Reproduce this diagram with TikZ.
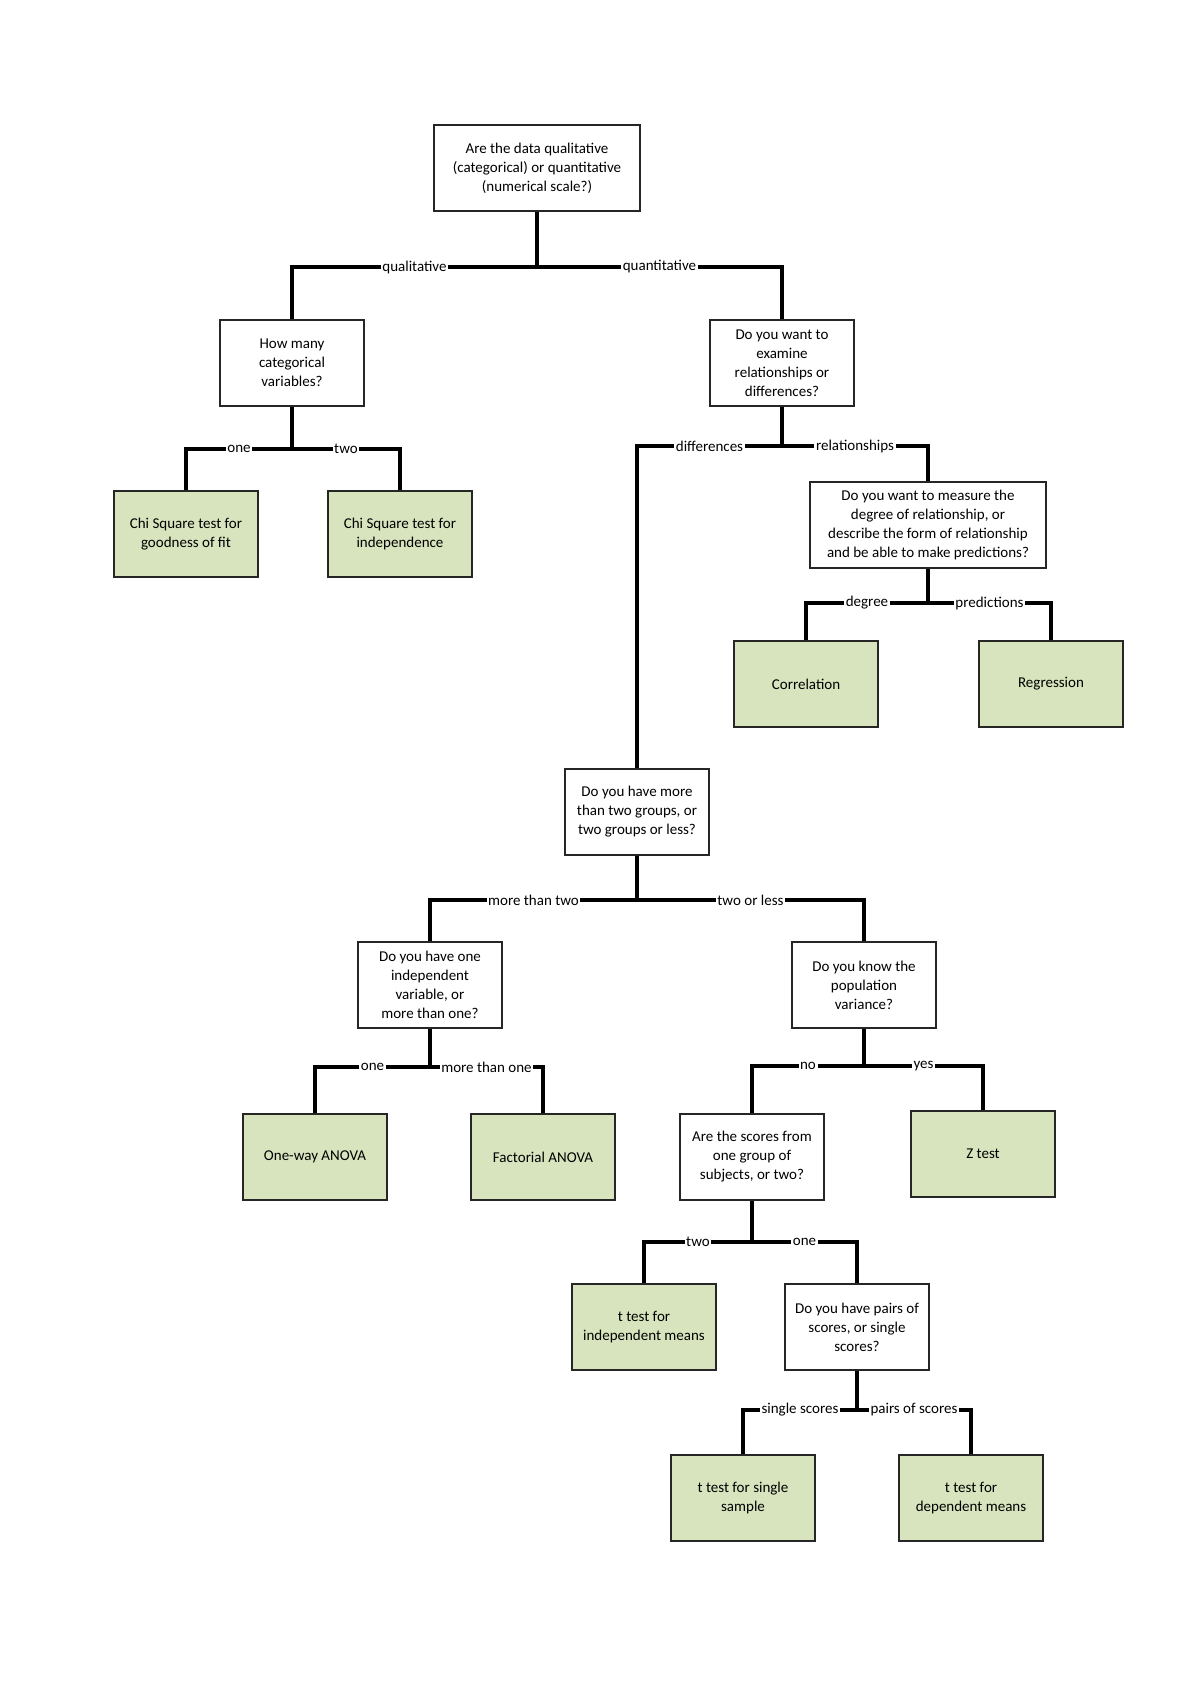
\documentclass[tikz,border=0pt]{standalone}
\usepackage{fontspec}
\setmainfont{Carlito}
\definecolor{testgreen}{HTML}{D7E4BD}
\begin{document}
\begin{tikzpicture}[x=0.5pt,y=-0.5pt,
		font=\fontsize{7.5}{9.5}\selectfont,
		ask/.style={draw=black!85,fill=white,line width=0.9pt,minimum width=72pt,minimum height=43pt,align=center,inner sep=2pt},
		test/.style={ask,fill=testgreen},
		branch/.style={line width=1.7pt},
		lbl/.style={fill=white,inner sep=0.8pt}
		]
	\useasboundingbox (0,0) rectangle (1200,1698);
	% questions
	\node [ask,minimum width=103pt] (root) at (537,168) {Are the data qualitative\\(categorical) or quantitative\\(numerical scale?)};
	\node [ask] (howmany) at (292,363) {How many\\categorical\\variables?};
	\node [ask] (examine) at (782,363) {Do you want to\\examine\\relationships or\\differences?};
	\node [ask,minimum width=118pt] (measure) at (928,525) {Do you want to measure the\\degree of relationship, or\\describe the form of relationship\\and be able to make predictions?};
	\node [ask] (groups) at (637,812) {Do you have more\\than two groups, or\\two groups or less?};
	\node [ask] (indep) at (430,985) {Do you have one\\independent\\variable, or\\more than one?};
	\node [ask] (variance) at (864,985) {Do you know the\\population\\variance?};
	\node [ask] (scores) at (752,1157) {Are the scores from\\one group of\\subjects, or two?};
	\node [ask] (pairs) at (857,1327) {Do you have pairs of\\scores, or single\\scores?};
	% tests
	\node [test] (chigood) at (186,534) {Chi Square test for\\goodness of fit};
	\node [test] (chiind) at (400,534) {Chi Square test for\\independence};
	\node [test] (corr) at (806,684) {Correlation};
	\node [test] (regr) at (1051,684) {Regression};
	\node [test] (oneway) at (315,1157) {One-way ANOVA};
	\node [test] (factorial) at (543,1157) {Factorial ANOVA};
	\node [test] (ztest) at (983,1154) {Z test};
	\node [test] (tind) at (644,1327) {t test for\\independent means};
	\node [test] (tsingle) at (743,1498) {t test for single\\sample};
	\node [test] (tdep) at (971,1498) {t test for\\dependent means};
	% junctions
	\coordinate (jroot) at (537,267);
	\coordinate (jhowmany) at (292,449);
	\coordinate (jexamine) at (782,446);
	\coordinate (jmeasure) at (928,603);
	\coordinate (jgroups) at (637,900);
	\coordinate (jindep) at (430,1067);
	\coordinate (jvariance) at (864,1066);
	\coordinate (jscores) at (752,1242);
	\coordinate (jpairs) at (857,1410);
	% branches
	\draw [branch] (root) -- (jroot) -| node [lbl,pos=0.25] {qualitative} (howmany);
	\draw [branch] (jroot) -| node [lbl,pos=0.25] {quantitative} (examine);
	\draw [branch] (howmany) -- (jhowmany) -| node [lbl,pos=0.25] {one} (chigood);
	\draw [branch] (jhowmany) -| node [lbl,pos=0.25] {two} (chiind);
	\draw [branch] (examine) -- (jexamine) -| node [lbl,pos=0.25] {differences} (groups);
	\draw [branch] (jexamine) -| node [lbl,pos=0.25] {relationships} (measure);
	\draw [branch] (measure) -- (jmeasure) -| node [lbl,pos=0.25] {degree} (corr);
	\draw [branch] (jmeasure) -| node [lbl,pos=0.25] {predictions} (regr);
	\draw [branch] (groups) -- (jgroups) -| node [lbl,pos=0.25] {more than two} (indep);
	\draw [branch] (jgroups) -| node [lbl,pos=0.25] {two or less} (variance);
	\draw [branch] (indep) -- (jindep) -| node [lbl,pos=0.25] {one} (oneway);
	\draw [branch] (jindep) -| node [lbl,pos=0.25] {more than one} (factorial);
	\draw [branch] (variance) -- (jvariance) -| node [lbl,pos=0.25] {no} (scores);
	\draw [branch] (jvariance) -| node [lbl,pos=0.25] {yes} (ztest);
	\draw [branch] (scores) -- (jscores) -| node [lbl,pos=0.25] {two} (tind);
	\draw [branch] (jscores) -| node [lbl,pos=0.25] {one} (pairs);
	\draw [branch] (pairs) -- (jpairs) -| node [lbl,pos=0.25] {single scores} (tsingle);
	\draw [branch] (jpairs) -| node [lbl,pos=0.25] {pairs of scores} (tdep);
\end{tikzpicture}
\end{document}
